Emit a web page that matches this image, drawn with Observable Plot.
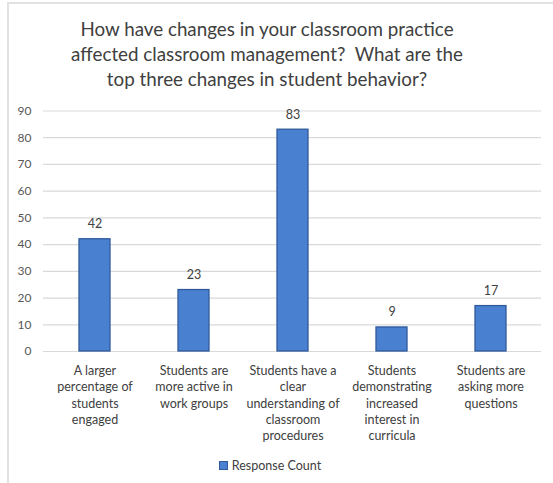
<!DOCTYPE html>
<html>
<head>
<meta charset="utf-8">
<script src="https://cdn.jsdelivr.net/npm/d3@7"></script>
<script src="https://cdn.jsdelivr.net/npm/@observablehq/plot@0.6"></script>
<style>
  html, body { margin: 0; padding: 0; background: #fff; }
  #wrap { position: relative; width: 553px; height: 483px; overflow: hidden; font-family: Lato, "Open Sans", sans-serif; }
  #frame { position: absolute; left: 7px; top: 2px; right: 0; bottom: 0; border-left: 2px solid #e2e2e2; border-top: 2px solid #e2e2e2; }
  #title { position: absolute; left: 9px; width: 516px; top: 16px; text-align: center; font-size: 18.8px; line-height: 25px; color: #404040; }
  #chart { position: absolute; left: 0; top: 100px; }
  #legend { position: absolute; left: 9px; width: 522px; top: 458px; text-align: center; font-size: 12.5px; color: #404040; }
  #legend .sw { display: inline-block; width: 7px; height: 7px; background: #4a80d0; border: 1px solid #2e5a9c; margin-right: 4px; vertical-align: 0px; }
</style>
</head>
<body>
<div id="wrap">
  <div id="frame"></div>
  <div id="title">How have changes in your classroom practice<br>affected classroom management?&nbsp; What are the<br>top three changes in student behavior?</div>
  <div id="chart"></div>
  <div id="legend"><span class="sw"></span>Response Count</div>
</div>
<script>
const categories = [
  "A larger percentage of students engaged",
  "Students are more active in work groups",
  "Students have a clear understanding of classroom procedures",
  "Students demonstrating increased interest in curricula",
  "Students are asking more questions"
];
const tickLabels = [
  "A larger\npercentage of\nstudents\nengaged",
  "Students are\nmore active in\nwork groups",
  "Students have a\nclear\nunderstanding of\nclassroom\nprocedures",
  "Students\ndemonstrating\nincreased\ninterest in\ncurricula",
  "Students are\nasking more\nquestions"
];
const responseCount = [42, 23, 83, 9, 17];
const yTicks = [0, 10, 20, 30, 40, 50, 60, 70, 80, 90];

const data = categories.map((c, i) => ({category: c, label: tickLabels[i], value: responseCount[i]}));
const labelOf = new Map(data.map(d => [d.category, d.label]));

const plot = Plot.plot({
  width: 553,
  height: 350,
  marginTop: 10.5,
  marginBottom: 99,
  marginLeft: 43,
  marginRight: 12,
  style: {fontFamily: "Lato, 'Open Sans', sans-serif", background: "transparent"},
  x: {domain: categories, paddingInner: 0.69, paddingOuter: 0.345, label: null},
  y: {domain: [0, 90], ticks: yTicks, label: null},
  marks: [
    Plot.gridY(yTicks, {stroke: "#d9d9d9", strokeOpacity: 1, strokeWidth: 1.2}),
    Plot.barY(data, {x: "category", y: "value", fill: "#4a80d0", stroke: "#2e5a9c", strokeWidth: 1.3}),
    Plot.text(data, {x: "category", y: "value", text: d => String(d.value), dy: -15, fontSize: 12.5, fill: "#404040"}),
    Plot.axisY(yTicks, {tickSize: 0, tickPadding: 12, fontSize: 12, fill: "#595959", label: null}),
    Plot.axisX({tickSize: 0, tickPadding: 12, fontSize: 12.5, fill: "#404040", lineHeight: 1.3, tickFormat: c => labelOf.get(c), label: null})
  ]
});
document.getElementById("chart").appendChild(plot);
</script>
</body>
</html>
